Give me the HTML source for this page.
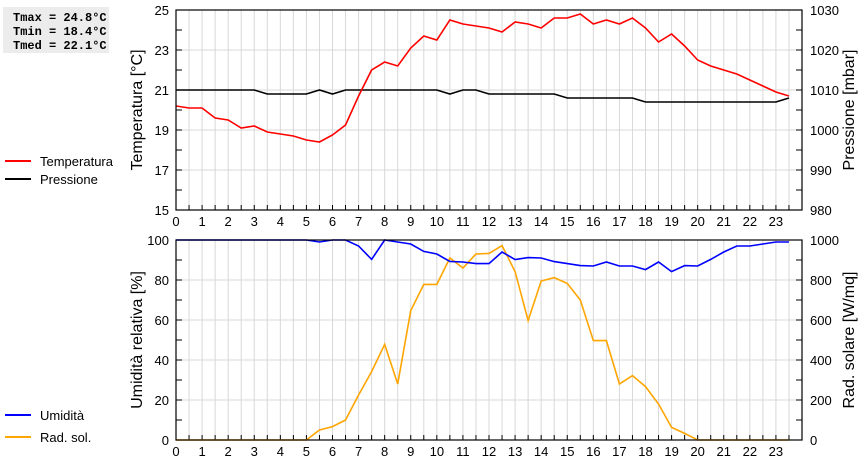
<!DOCTYPE html>
<html><head><meta charset="utf-8"><style>
body{margin:0;background:#fff;width:860px;height:460px;overflow:hidden;font-family:"Liberation Sans",sans-serif}
#stats{position:absolute;left:3px;top:7px;width:106px;height:46px;background:#ececec;font:bold 12px "Liberation Mono",monospace;line-height:14px;padding:4px 0 0 10px;box-sizing:border-box;white-space:pre}
</style></head><body>
<div id="stats">Tmax = 24.8°C
Tmin = 18.4°C
Tmed = 22.1°C</div>
<svg id="c" width="860" height="460" style="position:absolute;left:0;top:0"></svg>
<script>
const hours=[0,0.5,1,1.5,2,2.5,3,3.5,4,4.5,5,5.5,6,6.5,7,7.5,8,8.5,9,9.5,10,10.5,11,11.5,12,12.5,13,13.5,14,14.5,15,15.5,16,16.5,17,17.5,18,18.5,19,19.5,20,20.5,21,21.5,22,22.5,23,23.5];
const temperature=[20.2,20.1,20.1,19.6,19.5,19.1,19.2,18.9,18.8,18.7,18.5,18.4,18.75,19.25,20.7,22,22.4,22.2,23.1,23.7,23.5,24.5,24.3,24.2,24.1,23.9,24.4,24.3,24.1,24.6,24.6,24.8,24.3,24.5,24.3,24.6,24.1,23.4,23.8,23.2,22.5,22.2,22.0,21.8,21.5,21.2,20.9,20.7];
const pressure=[1010,1010,1010,1010,1010,1010,1010,1009,1009,1009,1009,1010,1009,1010,1010,1010,1010,1010,1010,1010,1010,1009,1010,1010,1009,1009,1009,1009,1009,1009,1008,1008,1008,1008,1008,1008,1007,1007,1007,1007,1007,1007,1007,1007,1007,1007,1007,1008];
const humidity=[100,100,100,100,100,100,100,100,100,100,100,99,100,100,97,90.3,100,99,98,94.3,93,89.3,89,88.2,88.2,94,90.2,91.2,91,89.2,88.2,87.2,87,89,87,87,85.2,89,84.2,87.2,87,90.3,94,97,97,98,99,99];
const radiation=[0,0,0,0,0,0,0,0,0,0,0,50,67,100,225,342,478,280,647,778,778,910,860,930,933,972,842,597,795,812,783,700,497,497,280,322,267,180,63,33,0,0,0,0,0,0,0,0];
const xTicks=[0,1,2,3,4,5,6,7,8,9,10,11,12,13,14,15,16,17,18,19,20,21,22,23];
const tempTicks=[15,17,19,21,23,25];
const presTicks=[980,990,1000,1010,1020,1030];
const humTicks=[0,20,40,60,80,100];
const radTicks=[0,200,400,600,800,1000];

const svg=document.getElementById('c');const NS='http://www.w3.org/2000/svg';
function el(t,a,p){const e=document.createElementNS(NS,t);for(const k in a)e.setAttribute(k,a[k]);(p||svg).appendChild(e);return e;}
const X0=176,X1=802;
const xs=h=>X0+h/24*(X1-X0);
function panel(top,bot,lmin,lmax,rmin,rmax,lticks,rticks,lminor,rminor,ltitle,rtitle,series,name){
  const ly=v=>bot-(v-lmin)/(lmax-lmin)*(bot-top);
  const ry=v=>bot-(v-rmin)/(rmax-rmin)*(bot-top);
  const g=el('g',{});
  
  
  for(let h=0.5;h<24;h+=0.5){const l=el('line',{x1:xs(h),x2:xs(h),y1:top,y2:bot,stroke:'#d8d8d8','stroke-width':1},g);}
  lticks.forEach(v=>{const y=ly(v);const l=el('line',{x1:X0,x2:X1,y1:y,y2:y,stroke:'#d8d8d8','stroke-width':1},g);
    const t=el('text',{x:X0-7,y:y+5,'text-anchor':'end','font-size':13,fill:'#000'},g);t.textContent=v;});
  rticks.forEach(v=>{const y=ry(v);const t=el('text',{x:X1+8,y:y+5,'font-size':13,fill:'#000'},g);t.textContent=v;});
  for(let v=lmin;v<=lmax+1e-9;v+=lminor){const y=ly(v);el('line',{x1:X0,x2:X0+6,y1:y,y2:y,stroke:'#000'},g);}
  for(let v=rmin;v<=rmax+1e-9;v+=rminor){const y=ry(v);el('line',{x1:X1-6,x2:X1,y1:y,y2:y,stroke:'#000'},g);}
  for(let h=0.5;h<24;h+=0.5){el('line',{x1:xs(h),x2:xs(h),y1:bot,y2:bot-5,stroke:'#000'},g);}
  xTicks.forEach(h=>{const t=el('text',{x:xs(h),y:bot+16,'text-anchor':'middle','font-size':13,fill:'#000'},g);t.textContent=h;});
  series.forEach(s=>{const sc=s.axis==='l'?ly:ry;const p=el('polyline',{points:hours.map((h,i)=>xs(h)+','+sc(s.data[i])).join(' '),fill:'none',stroke:s.color,'stroke-width':1.6},g);});
  const r=el('rect',{x:X0,y:top,width:X1-X0,height:bot-top,fill:'none',stroke:'#000','stroke-width':1.2},g);
  const cy=(top+bot)/2;
  const t1=el('text',{x:0,y:0,'font-size':16,'text-anchor':'middle',transform:`translate(142,${cy}) rotate(-90)`},g);t1.textContent=ltitle;
  const t2=el('text',{x:0,y:0,'font-size':16,'text-anchor':'middle',transform:`translate(854,${cy}) rotate(-90)`},g);t2.textContent=rtitle;
}
panel(10,210,15,25,980,1030,tempTicks,presTicks,1,5,'Temperatura [°C]','Pressione [mbar]',[{data:pressure,axis:'r',color:'#000',name:'pressure-line'},{data:temperature,axis:'l',color:'#f00',name:'temperature-line'}],'top-panel');
panel(240,440,0,100,0,1000,humTicks,radTicks,10,100,'Umidità relativa [%]','Rad. solare [W/mq]',[{data:radiation,axis:'r',color:'#ffa500',name:'radiation-line'},{data:humidity,axis:'l',color:'#00f',name:'humidity-line'}],'bottom-panel');
function leg(y,color,label,nm){const g=el('g',{});
  el('line',{x1:5,x2:31,y1:y,y2:y,stroke:color,'stroke-width':2},g);
  const t=el('text',{x:40,y:y+5,'font-size':13},g);t.textContent=label;}
leg(161,'#f00','Temperatura','legend-temperatura');
leg(179,'#000','Pressione','legend-pressione');
leg(415,'#00f','Umidità','legend-umidita');
leg(437,'#ffa500','Rad. sol.','legend-rad-sol');
</script>
</body></html>
